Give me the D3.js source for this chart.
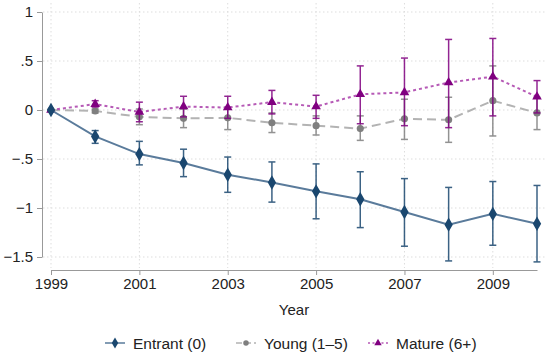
<!DOCTYPE html>
<html>
<head>
<meta charset="utf-8">
<script src="https://d3js.org/d3.v7.min.js"></script>
<style>
  body { margin: 0; background: #fff; }
  svg { display: block; font-family: "Liberation Sans", Arial, sans-serif; }
  .axis text { font-size: 15px; fill: #222; }
  .axis line, .axis path { stroke: #999; }
  .grid line { stroke: #ddd; stroke-dasharray: 1.5,2.5; }
</style>
</head>
<body>
<svg id="chart" width="546" height="352"></svg>
<script>
// values
const years = [1999, 2000, 2001, 2002, 2003, 2004, 2005, 2006, 2007, 2008, 2009, 2010];

const entrant   = [0, -0.27, -0.45, -0.54, -0.66, -0.74, -0.83, -0.91, -1.04, -1.17, -1.06, -1.16];
const entrantLo = [0, -0.34, -0.56, -0.68, -0.84, -0.94, -1.11, -1.20, -1.39, -1.54, -1.38, -1.55];
const entrantHi = [0, -0.21, -0.32, -0.40, -0.48, -0.53, -0.55, -0.63, -0.70, -0.79, -0.73, -0.77];

const young   = [0, -0.01, -0.07, -0.085, -0.08, -0.13, -0.16, -0.19, -0.09, -0.10, 0.095, -0.03];
const youngLo = [0, -0.03, -0.15, -0.18, -0.20, -0.23, -0.255, -0.31, -0.30, -0.33, -0.265, -0.20];
const youngHi = [0, 0.01, 0.01, 0.01, 0.03, -0.03, -0.06, -0.06, 0.11, 0.13, 0.45, 0.13];

const mature   = [0, 0.06, -0.02, 0.035, 0.025, 0.08, 0.035, 0.16, 0.18, 0.28, 0.34, 0.135];
const matureLo = [0, 0.03, -0.12, -0.07, -0.085, -0.04, -0.085, -0.14, -0.16, -0.18, -0.06, -0.03];
const matureHi = [0, 0.095, 0.08, 0.14, 0.14, 0.20, 0.15, 0.45, 0.53, 0.72, 0.73, 0.30];

const yTicks = [1, 0.5, 0, -0.5, -1, -1.5];
const yTickLabels = ["1", ".5", "0", "\u2212.5", "\u22121", "\u22121.5"];
const xTicks = [1999, 2001, 2003, 2005, 2007, 2009];

const svg = d3.select('#chart');

const x = d3.scaleLinear().domain([1999, 2010]).range([51, 537]);
const y = d3.scaleLinear().domain([-1.5, 1]).range([257, 12]);

// grid
const grid = svg.append('g').attr('class', 'grid');
grid.selectAll('line.h').data(yTicks).join('line')
  .attr('class', 'h')
  .attr('x1', 43).attr('x2', 546)
  .attr('y1', d => y(d)).attr('y2', d => y(d));
grid.selectAll('line.v').data(xTicks).join('line')
  .attr('class', 'v')
  .attr('x1', d => x(d)).attr('x2', d => x(d))
  .attr('y1', 3).attr('y2', 268);

// axes
const yAxis = d3.axisLeft(y).tickValues(yTicks)
  .tickFormat((d, i) => yTickLabels[i]).tickSize(5).tickSizeOuter(0).tickPadding(4);
svg.append('g').attr('class', 'axis')
  .attr('transform', 'translate(42,0)')
  .call(yAxis);

const xAxis = d3.axisBottom(x).tickValues(xTicks)
  .tickFormat(d3.format('d')).tickSize(5).tickSizeOuter(0).tickPadding(3);
svg.append('g').attr('class', 'axis')
  .attr('transform', 'translate(0,270)')
  .call(xAxis);

svg.append('text')
  .attr('x', x(2004.5)).attr('y', 315)
  .attr('text-anchor', 'middle')
  .style('font-size', '15px').style('fill', '#222')
  .text('Year');

// series
const series = [
  { name: 'Entrant (0)', vals: entrant, lo: entrantLo, hi: entrantHi,
    mark: '#1a476f', line: '#5a7b9b', dash: null, sym: d3.symbolDiamond, size: 60 },
  { name: 'Young (1\u20135)', vals: young, lo: youngLo, hi: youngHi,
    mark: '#7f7f7f', line: '#b3b3b3', dash: '9,5', sym: d3.symbolCircle, size: 40 },
  { name: 'Mature (6+)', vals: mature, lo: matureLo, hi: matureHi,
    mark: '#800080', line: '#b65ab6', dash: '3,3', sym: d3.symbolTriangle, size: 40 }
];

const line = d3.line().x(d => x(d[0])).y(d => y(d[1]));

// draw entrant last so its marker sits on top at the origin
[1, 2, 0].forEach(k => {
  const s = series[k];
  const g = svg.append('g');
  const pts = years.map((yr, i) => [yr, s.vals[i], s.lo[i], s.hi[i]]);
  // error bars
  const bars = g.append('g').attr('stroke', s.mark).attr('stroke-width', 1.5).attr('opacity', 0.85);
  pts.filter(d => d[3] - d[2] > 0).forEach(d => {
    bars.append('line').attr('x1', x(d[0])).attr('x2', x(d[0])).attr('y1', y(d[2])).attr('y2', y(d[3]));
    bars.append('line').attr('x1', x(d[0]) - 3.5).attr('x2', x(d[0]) + 3.5).attr('y1', y(d[2])).attr('y2', y(d[2]));
    bars.append('line').attr('x1', x(d[0]) - 3.5).attr('x2', x(d[0]) + 3.5).attr('y1', y(d[3])).attr('y2', y(d[3]));
  });
  g.append('path').datum(pts)
    .attr('d', line)
    .attr('fill', 'none')
    .attr('stroke', s.line)
    .attr('stroke-width', 2)
    .attr('stroke-dasharray', s.dash);
  g.selectAll('path.m').data(pts).join('path')
    .attr('class', 'm')
    .attr('transform', d => `translate(${x(d[0])},${y(d[1])})`)
    .attr('d', d3.symbol().type(s.sym).size(s.size))
    .attr('fill', s.mark);
});

// legend
const legX = [105, 236, 368];
series.forEach((s, i) => {
  const g = svg.append('g').attr('transform', `translate(${legX[i]},343)`);
  g.append('line').attr('x1', 0).attr('x2', 20).attr('y1', 0).attr('y2', 0)
    .attr('stroke', s.line).attr('stroke-width', 1.5).attr('stroke-dasharray', s.dash ? (i === 1 ? '6,3' : '2,2.5') : null);
  g.append('path').attr('transform', 'translate(10,0)')
    .attr('d', d3.symbol().type(s.sym).size(s.size * 0.6)).attr('fill', s.mark);
  g.append('text').attr('x', 28).attr('y', 5.5)
    .style('font-size', '15.5px').style('fill', '#222')
    .text(s.name);
});
</script>
</body>
</html>
